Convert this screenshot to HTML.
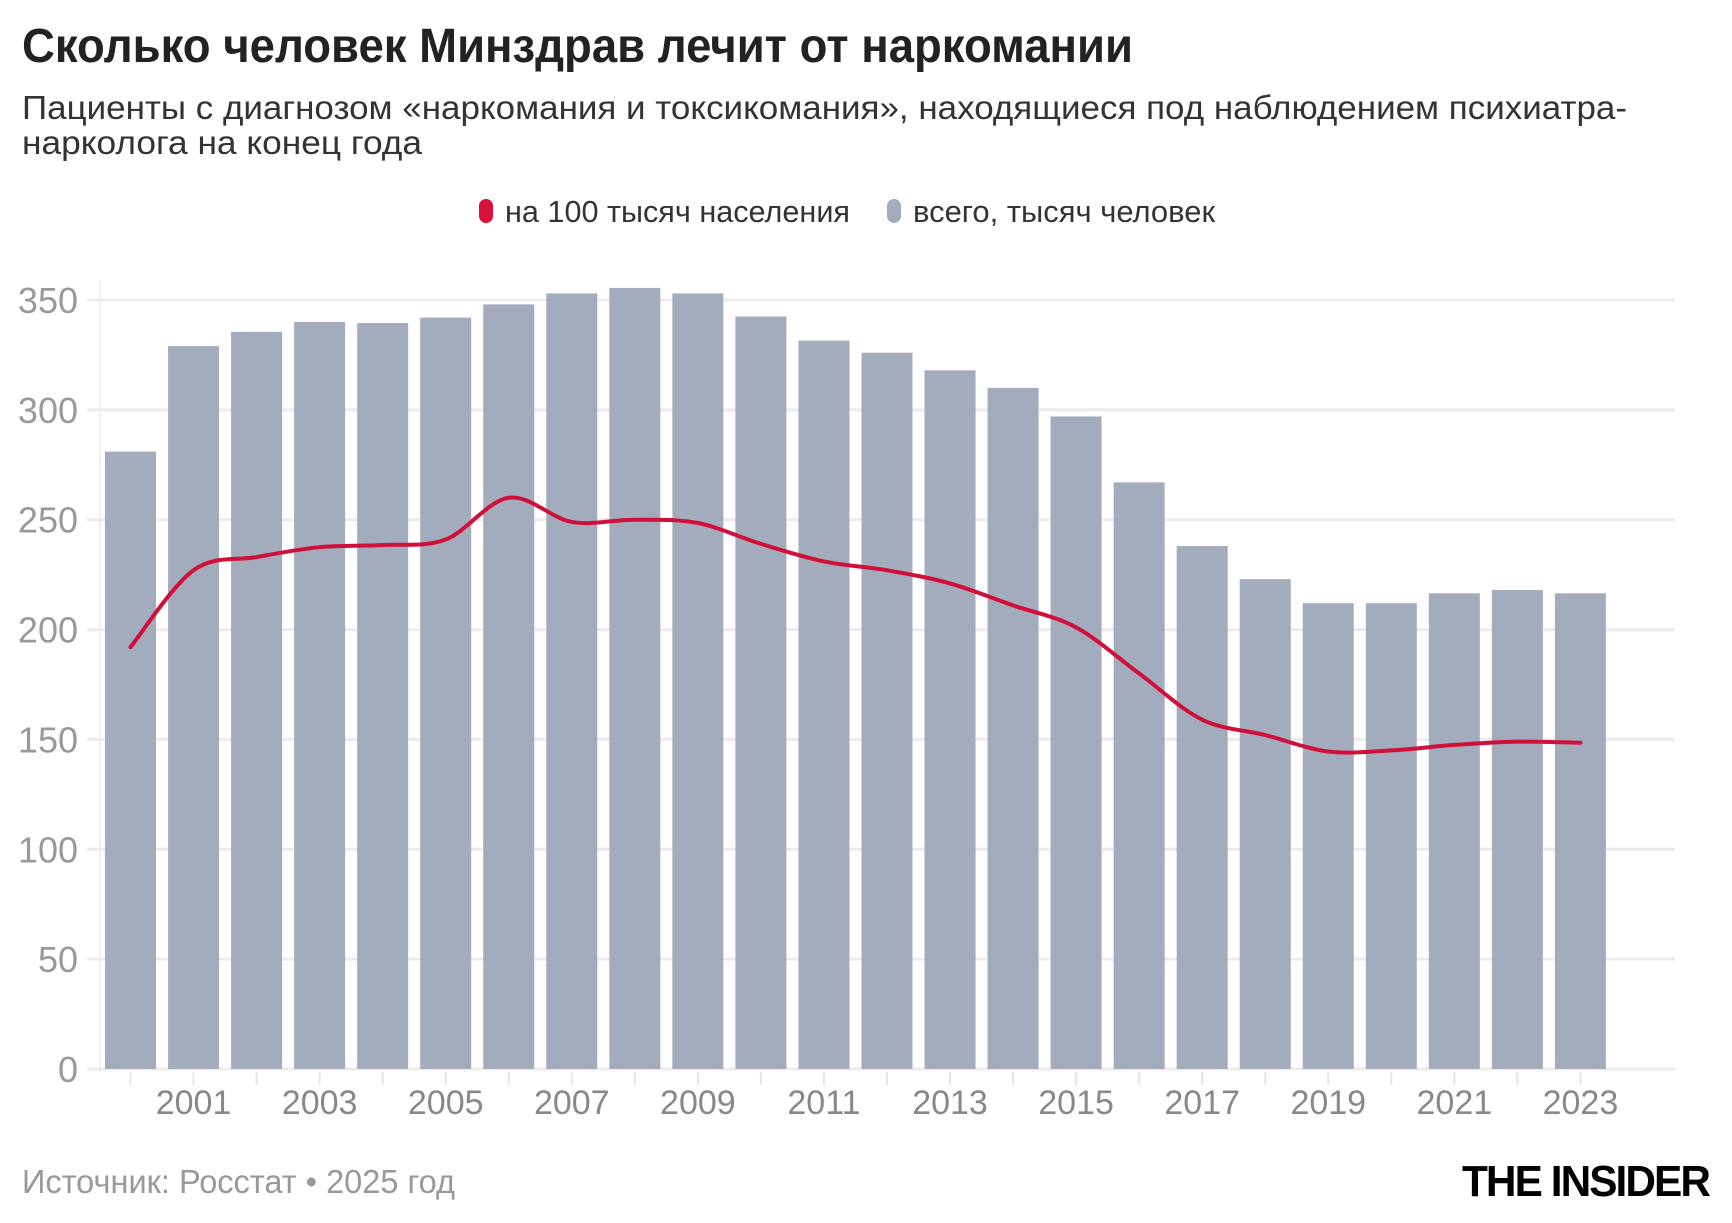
<!DOCTYPE html>
<html><head><meta charset="utf-8"><style>
html,body{margin:0;padding:0;background:#fff;}
svg{display:block;font-family:"Liberation Sans Narrow","Liberation Sans",sans-serif;}
</style></head><body>
<svg id="s" width="1732" height="1223" viewBox="0 0 1732 1223" xmlns="http://www.w3.org/2000/svg">
<text x="22" y="62" font-size="48" font-weight="bold" fill="#222" textLength="1111" lengthAdjust="spacingAndGlyphs">Сколько человек Минздрав лечит от наркомании</text>
<text x="22" y="119" font-size="33" fill="#333" textLength="1605" lengthAdjust="spacingAndGlyphs">Пациенты с диагнозом «наркомания и токсикомания», находящиеся под наблюдением психиатра-</text>
<text x="22" y="154" font-size="33" fill="#333" textLength="400" lengthAdjust="spacingAndGlyphs">нарколога на конец года</text>
<rect x="479" y="199" width="14" height="24" rx="7" fill="#d9103a"/>
<text x="505" y="222" font-size="31" fill="#333" textLength="345" lengthAdjust="spacingAndGlyphs">на 100 тысяч населения</text>
<rect x="887" y="199" width="14" height="24" rx="7" fill="#a3acbd"/>
<text x="913" y="222" font-size="31" fill="#333" textLength="302" lengthAdjust="spacingAndGlyphs">всего, тысяч человек</text>
<line x1="100" y1="280" x2="100" y2="1072" stroke="#f0f0f0" stroke-width="2"/>
<g id="grid"></g>
<g id="bars"></g>
<g id="ticks"></g>
<path id="line" fill="none" stroke="#d0103a" stroke-width="4" stroke-linejoin="round" stroke-linecap="round"/>
<text x="22" y="1193" font-size="33" fill="#999" textLength="433" lengthAdjust="spacingAndGlyphs">Источник: Росстат • 2025 год</text>
<text x="1462" y="1196" font-size="44" font-weight="bold" fill="#000" textLength="247" lengthAdjust="spacingAndGlyphs" letter-spacing="-2">THE INSIDER</text>
</svg>
<script>
var NS="http://www.w3.org/2000/svg";
function el(t,a,txt){var e=document.createElementNS(NS,t);for(var k in a)e.setAttribute(k,a[k]);if(txt!==undefined)e.textContent=txt;return e;}
var y0=1069,k=769/350;function Y(v){return y0-v*k;}
var g=document.getElementById('grid');
for(var v=0;v<=350;v+=50){var y=Y(v);g.appendChild(el('line',{x1:87,x2:1675,y1:y,y2:y,stroke:'#ececec','stroke-width':3}));
g.appendChild(el('text',{x:78,y:y+13,'font-size':36,fill:'#999','text-anchor':'end'},String(v)));}
var bars=[281,329,335.5,340,339.5,342,348,353,355.5,353,342.5,331.5,326,318,310,297,267,238,223,212,212,216.5,218,216.5];
var line=[192,227,233,237.5,238.5,241,260,249,250,248.5,239,231,227,221,211,201,180,159,152,144.5,145,147.5,149,148.5];
var b=document.getElementById('bars'),t=document.getElementById('ticks');
var step=63.04,x0=105,w=51,pts=[];
for(var i=0;i<bars.length;i++){var x=x0+i*step;var cx=x+w/2;
b.appendChild(el('rect',{x:x,y:Y(bars[i]),width:w,height:y0-Y(bars[i]),fill:'#a3acbd'}));
t.appendChild(el('line',{x1:cx,x2:cx,y1:y0+3,y2:y0+16,stroke:'#e6e6e6','stroke-width':2}));
if(i%2==1)t.appendChild(el('text',{x:cx,y:1114,'font-size':34,fill:'#888','text-anchor':'middle'},String(2000+i)));
pts.push([cx,Y(line[i])]);}
var d='M'+pts[0][0]+','+pts[0][1];
for(var i=0;i<pts.length-1;i++){var p0=pts[i-1]||pts[i],p1=pts[i],p2=pts[i+1],p3=pts[i+2]||p2;
var c1=[p1[0]+(p2[0]-p0[0])/6,p1[1]+(p2[1]-p0[1])/6],c2=[p2[0]-(p3[0]-p1[0])/6,p2[1]-(p3[1]-p1[1])/6];
d+=' C'+c1+' '+c2+' '+p2;}
document.getElementById('line').setAttribute('d',d);
</script>
</body></html>
